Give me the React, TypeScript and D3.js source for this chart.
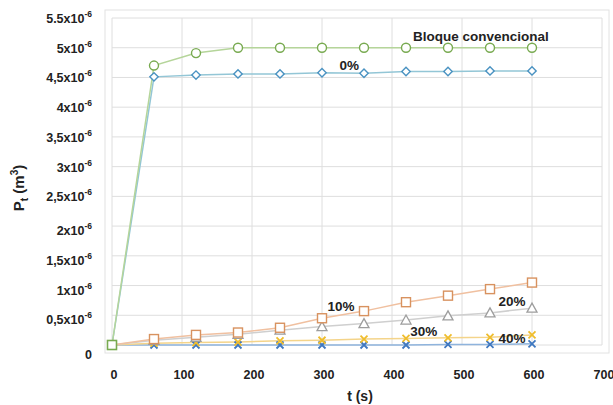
import React from "react";
import * as d3 from "d3";

const times = [0, 60, 120, 180, 240, 300, 360, 420, 480, 540, 600];
const bloque = [0, 4.7, 4.91, 5.0, 5.0, 5.0, 5.0, 5.0, 5.0, 5.0, 5.0];
const p0 = [0, 4.51, 4.54, 4.56, 4.56, 4.58, 4.57, 4.6, 4.6, 4.61, 4.61];
const p10 = [0, 0.1, 0.17, 0.21, 0.29, 0.45, 0.57, 0.72, 0.83, 0.94, 1.05];
const p20 = [0, 0.08, 0.13, 0.18, 0.25, 0.31, 0.36, 0.42, 0.49, 0.54, 0.62];
const p30 = [0, 0.03, 0.04, 0.05, 0.07, 0.08, 0.1, 0.11, 0.12, 0.13, 0.17];
const p40 = [0, 0.0, 0.0, 0.0, 0.0, 0.0, 0.0, 0.0, 0.01, 0.01, 0.02];

const xTicks = [0, 100, 200, 300, 400, 500, 600, 700];
const yTicks = [0, 0.5, 1, 1.5, 2, 2.5, 3, 3.5, 4, 4.5, 5, 5.5];
const yTickLabels = ["0", "0,5", "1", "1,5", "2", "2,5", "3", "3,5", "4", "4,5", "5", "5.5"];

const labels = [
  { text: "Bloque convencional", t: 430, v: 5.12 },
  { text: "0%", t: 325, v: 4.62 },
  { text: "10%", t: 308, v: 0.57 },
  { text: "20%", t: 552, v: 0.66 },
  { text: "30%", t: 426, v: 0.15 },
  { text: "40%", t: 552, v: 0.035 },
];

const W = 613, H = 405;
const L = 112, R = 602, T = 18, B = 345;

export default function App() {
  const x = d3.scaleLinear().domain([0, 700]).range([L, R]);
  const y = d3.scaleLinear().domain([0, 5.5]).range([B, T]);
  const line = (vals: number[]) =>
    d3.line<number>().x((_, i) => x(times[i])).y((v) => y(v))(vals) || "";

  const series = [
    { vals: p40, line: "#8fb4dd", stroke: "#3f78c0", shape: "x" },
    { vals: p30, line: "#f4d48a", stroke: "#efbd2c", shape: "x" },
    { vals: p20, line: "#cfcfcf", stroke: "#9d9d9d", shape: "tri" },
    { vals: p10, line: "#f0c0a0", stroke: "#d8925f", shape: "sq" },
    { vals: p0, line: "#93c6d6", stroke: "#4b93c2", shape: "dia" },
    { vals: bloque, line: "#b5d59a", stroke: "#78aa50", shape: "circ" },
  ];

  const marker = (shape: string, cx: number, cy: number, stroke: string, k: string) => {
    if (shape === "circ")
      return <circle key={k} cx={cx} cy={cy} r={4.5} fill="#fff" stroke={stroke} strokeWidth={1.4} />;
    if (shape === "dia")
      return (
        <path key={k} d={`M${cx},${cy - 4.2}L${cx + 4.2},${cy}L${cx},${cy + 4.2}L${cx - 4.2},${cy}Z`}
          fill="#fff" stroke={stroke} strokeWidth={1.4} />
      );
    if (shape === "sq")
      return <rect key={k} x={cx - 4.5} y={cy - 4.5} width={9} height={9} fill="#fff" stroke={stroke} strokeWidth={1.4} />;
    if (shape === "tri")
      return (
        <path key={k} d={`M${cx},${cy - 5}L${cx + 5},${cy + 4}L${cx - 5},${cy + 4}Z`}
          fill="#fff" stroke={stroke} strokeWidth={1.3} />
      );
    return (
      <path key={k} d={`M${cx - 3.5},${cy - 3.5}L${cx + 3.5},${cy + 3.5}M${cx + 3.5},${cy - 3.5}L${cx - 3.5},${cy + 3.5}`}
        stroke={stroke} strokeWidth={1.8} fill="none" />
    );
  };

  const font = "'Liberation Sans', Arial, sans-serif";

  return (
    <svg width={W} height={H} style={{ position: "absolute", left: 0, top: 0, background: "#fff" }}
      fontFamily={font}>
      <rect x={105} y={10} width={504} height={343} fill="#fff" stroke="#e2e2e2" strokeWidth={1} />
      {yTicks.map((t) => (
        <line key={"gy" + t} x1={L} x2={R} y1={y(t)} y2={y(t)} stroke="#dedede" strokeWidth={1} />
      ))}
      {xTicks.map((t) => (
        <line key={"gx" + t} x1={x(t)} x2={x(t)} y1={T} y2={B} stroke="#dedede" strokeWidth={1} />
      ))}
      {series.map((s, si) => (
        <g key={"s" + si}>
          <path d={line(s.vals)} fill="none" stroke={s.line} strokeWidth={1.5} />
        </g>
      ))}
      {series.map((s, si) => (
        <g key={"m" + si}>
          {s.vals.map((v, i) => (i === 0 ? null : marker(s.shape, x(times[i]), y(v), s.stroke, si + "-" + i)))}
        </g>
      ))}
      <rect x={x(times[0]) - 4.5} y={y(bloque[0]) - 4.5} width={9} height={9} fill="#fff" stroke="#78aa50" strokeWidth={1.6} />
      {yTicks.map((t, i) => (
        <text key={"yl" + t} x={92} y={y(t) + 5 + (t > 0 && t <= 2 ? 4 : t === 0 ? 9 : 0)} textAnchor="end"
          fontSize={12.5} fontWeight="bold" fill="#222">
          {t === 0 ? (
            "0"
          ) : (
            <>
              {yTickLabels[i]}x10
              <tspan fontSize={8.5} dy={-6}>-6</tspan>
            </>
          )}
        </text>
      ))}
      {xTicks.map((t) => (
        <text key={"xl" + t} x={x(t) + 2} y={379} textAnchor="middle" fontSize={12.5} fontWeight="bold" fill="#222">
          {t}
        </text>
      ))}
      <text x={360} y={401} textAnchor="middle" fontSize={14} fontWeight="bold" fill="#222">t (s)</text>
      <text transform="translate(24,188) rotate(-90)" textAnchor="middle" fontSize={15} fontWeight="bold" fill="#222">
        P<tspan fontSize={10} dy={4}>t</tspan>
        <tspan dy={-4}> (m</tspan>
        <tspan fontSize={10} dy={-6}>3</tspan>
        <tspan dy={6}>)</tspan>
      </text>
      {labels.map((l) => (
        <text key={l.text} x={x(l.t)} y={y(l.v)} fontSize={13.5} fontWeight="bold" fill="#222">
          {l.text}
        </text>
      ))}
    </svg>
  );
}
